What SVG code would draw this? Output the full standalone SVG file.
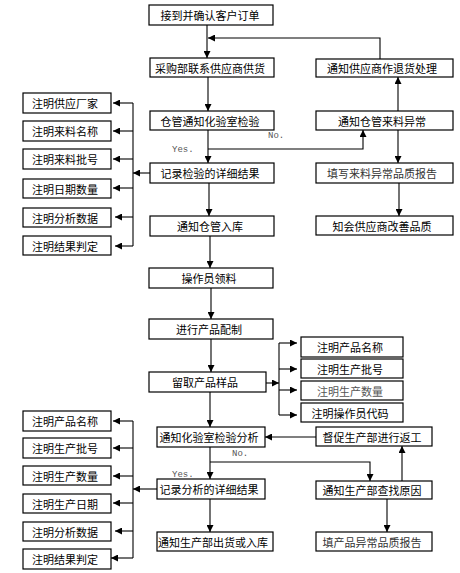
<svg xmlns="http://www.w3.org/2000/svg" width="460" height="573" viewBox="0 0 460 573">
<defs>
<marker id="ah" viewBox="0 0 10 10" refX="10" refY="5" markerWidth="7" markerHeight="7" markerUnits="userSpaceOnUse" orient="auto">
<path d="M0,0 L10,5 L0,10 z" fill="#000"/>
</marker>
</defs>
<style>
.b rect{fill:#fff;stroke:#000;stroke-width:1.2}
.b text{font-family:"Noto Sans CJK SC","Liberation Sans",sans-serif;font-size:11px;fill:#000;text-anchor:middle;dominant-baseline:central}
.c path{fill:none;stroke:#000;stroke-width:1.1}
.c .a{marker-end:url(#ah)}
.l{font-family:"Liberation Mono",monospace;font-size:9px;fill:#555}
</style>
<rect width="460" height="573" fill="#fff"/>
<g class="c">
<path class="a" d="M207,25 V58"/>
<path class="a" d="M380,59 V38 H208"/>
<path class="a" d="M208,77 V111"/>
<path class="a" d="M208,130 V163"/>
<path class="a" d="M208,149 H363 V130"/>
<path class="a" d="M398,111 V77"/>
<path class="a" d="M398,130 V163"/>
<path class="a" d="M399,183 V216"/>
<path class="a" d="M150,173 H133"/>
<path d="M133,103 V246"/>
<path class="a" d="M133,103 H113"/>
<path class="a" d="M133,131 H113"/>
<path class="a" d="M133,159 H113"/>
<path class="a" d="M133,188 H113"/>
<path class="a" d="M133,217 H115"/>
<path class="a" d="M133,246 H115"/>
<path class="a" d="M209,183 V216"/>
<path class="a" d="M210,236 V268"/>
<path class="a" d="M211,288 V319"/>
<path class="a" d="M211,339 V372"/>
<path class="a" d="M266,383 H279"/>
<path d="M279,343 V415"/>
<path class="a" d="M279,343 H297"/>
<path class="a" d="M279,369 H297"/>
<path class="a" d="M279,390 H297"/>
<path class="a" d="M279,415 H297"/>
<path class="a" d="M210,392 V427"/>
<path class="a" d="M316,437 H265"/>
<path class="a" d="M210,447 V479"/>
<path class="a" d="M210,462 H370 V481"/>
<path class="a" d="M402,481 V446"/>
<path class="a" d="M387,499 V532"/>
<path class="a" d="M157,489 H133"/>
<path d="M133,421 V558"/>
<path class="a" d="M133,421 H113"/>
<path class="a" d="M133,448 H113"/>
<path class="a" d="M133,476 H113"/>
<path class="a" d="M133,503 H113"/>
<path class="a" d="M133,531 H115"/>
<path class="a" d="M133,558 H111"/>
<path class="a" d="M210,499 V532"/>
</g>
<text class="l" x="268" y="138">No.</text>
<text class="l" x="172" y="152">Yes.</text>
<text class="l" x="232" y="456">No.</text>
<text class="l" x="172" y="477">Yes.</text>
<g class="b" id="n1"><rect x="149" y="5" width="124" height="20"/><text x="210" y="15">接到并确认客户订单</text></g>
<g class="b" id="n2"><rect x="150" y="58" width="124" height="19"/><text x="210" y="67.5">采购部联系供应商供货</text></g>
<g class="b" id="n3"><rect x="150" y="111" width="124" height="19"/><text x="210" y="120.5">仓管通知化验室检验</text></g>
<g class="b" id="n4"><rect x="150" y="163" width="124" height="20"/><text x="210" y="173">记录检验的详细结果</text></g>
<g class="b" id="n5"><rect x="150" y="216" width="124" height="20"/><text x="210" y="226">通知仓管入库</text></g>
<g class="b" id="n6"><rect x="149" y="268" width="124" height="20"/><text x="209" y="278">操作员领料</text></g>
<g class="b" id="n7"><rect x="149" y="319" width="124" height="20"/><text x="209" y="329">进行产品配制</text></g>
<g class="b" id="n8"><rect x="149" y="372" width="117" height="20"/><text x="205" y="382">留取产品样品</text></g>
<g class="b" id="n9"><rect x="157" y="427" width="108" height="20"/><text x="209" y="437">通知化验室检验分析</text></g>
<g class="b" id="n10"><rect x="157" y="479" width="108" height="20"/><text x="209" y="489">记录分析的详细结果</text></g>
<g class="b" id="n11"><rect x="157" y="532" width="116" height="19"/><text x="213" y="541.5">通知生产部出货或入库</text></g>
<g class="b" id="r1"><rect x="316" y="59" width="137" height="18"/><text x="382" y="68">通知供应商作退货处理</text></g>
<g class="b" id="r2"><rect x="316" y="111" width="137" height="19"/><text x="382" y="120.5">通知仓管来料异常</text></g>
<g class="b" id="r3"><rect x="316" y="163" width="137" height="20"/><text x="382" y="173" style="fill:#333">填写来料异常品质报告</text></g>
<g class="b" id="r4"><rect x="316" y="216" width="137" height="19"/><text x="382" y="225.5">知会供应商改善品质</text></g>
<g class="b" id="s1"><rect x="301" y="337" width="102" height="20"/><text x="350" y="347">注明产品名称</text></g>
<g class="b" id="s2"><rect x="301" y="359" width="102" height="19"/><text x="350" y="368.5">注明生产批号</text></g>
<g class="b" id="s3"><rect x="301" y="381" width="102" height="19"/><text x="350" y="390.5" style="fill:#555">注明生产数量</text></g>
<g class="b" id="s4"><rect x="301" y="403" width="102" height="19"/><text x="350" y="412.5">注明操作员代码</text></g>
<g class="b" id="q1"><rect x="316" y="427" width="116" height="19"/><text x="372" y="436.5">督促生产部进行返工</text></g>
<g class="b" id="q2"><rect x="316" y="481" width="116" height="18"/><text x="372" y="490">通知生产部查找原因</text></g>
<g class="b" id="q3"><rect x="316" y="532" width="116" height="19"/><text x="372" y="541.5" style="fill:#333">填产品异常品质报告</text></g>
<g class="b" id="a1"><rect x="23" y="93" width="88" height="20"/><text x="65" y="103">注明供应厂家</text></g>
<g class="b" id="a2"><rect x="23" y="121" width="88" height="20"/><text x="65" y="131">注明来料名称</text></g>
<g class="b" id="a3"><rect x="23" y="149" width="88" height="20"/><text x="65" y="159">注明来料批号</text></g>
<g class="b" id="a4"><rect x="23" y="179" width="88" height="19"/><text x="65" y="188.5">注明日期数量</text></g>
<g class="b" id="a5"><rect x="23" y="208" width="88" height="19"/><text x="65" y="217.5">注明分析数据</text></g>
<g class="b" id="a6"><rect x="23" y="236" width="88" height="19"/><text x="65" y="245.5">注明结果判定</text></g>
<g class="b" id="b1"><rect x="23" y="411" width="88" height="20"/><text x="65" y="421">注明产品名称</text></g>
<g class="b" id="b2"><rect x="23" y="438" width="88" height="20"/><text x="65" y="448">注明生产批号</text></g>
<g class="b" id="b3"><rect x="23" y="466" width="88" height="19"/><text x="65" y="475.5">注明生产数量</text></g>
<g class="b" id="b4"><rect x="23" y="494" width="88" height="19"/><text x="65" y="503.5">注明生产日期</text></g>
<g class="b" id="b5"><rect x="23" y="522" width="88" height="19"/><text x="65" y="531.5">注明分析数据</text></g>
<g class="b" id="b6"><rect x="23" y="549" width="88" height="20"/><text x="65" y="559">注明结果判定</text></g>
</svg>
